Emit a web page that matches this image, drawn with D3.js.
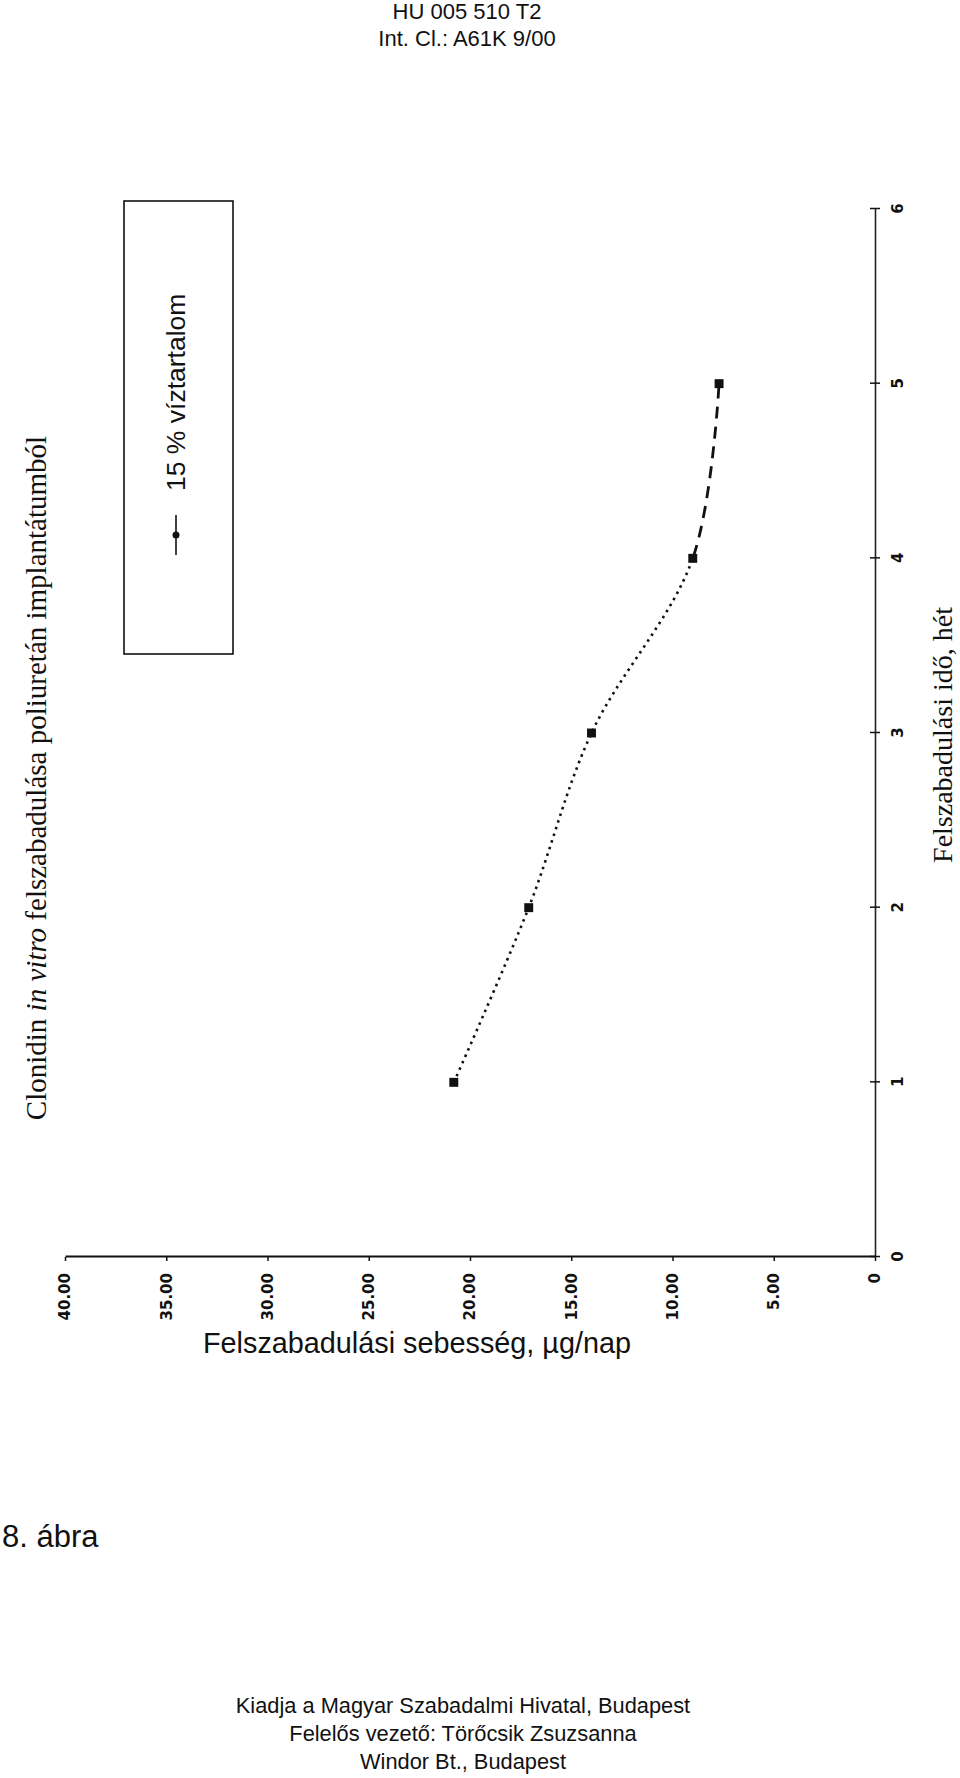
<!DOCTYPE html>
<html><head><meta charset="utf-8">
<script src="https://cdn.jsdelivr.net/npm/d3@7"></script>
<style>body{margin:0;background:#fff}svg{display:block}</style>
</head><body><svg id="c" width="960" height="1778"></svg>
<script>
// ---- data ----
const weeks = [1, 2, 3, 4, 5];
const rates = [20.8, 17.1, 14.0, 9.0, 7.7];
const weekTicks = [0, 1, 2, 3, 4, 5, 6];
const rateTicks = [0, 5, 10, 15, 20, 25, 30, 35, 40];
const rateTickLabels = ["0", "5.00", "10.00", "15.00", "20.00", "25.00", "30.00", "35.00", "40.00"];
const seriesName = "15 % víztartalom";
const xTitle = "Felszabadulási idő, hét";
const yTitle = "Felszabadulási sebesség, \u00b5g/nap";
const headerLines = ["HU 005 510 T2", "Int. Cl.: A61K 9/00"];
const figLabel = "8. ábra";
const footerLines = ["Kiadja a Magyar Szabadalmi Hivatal, Budapest", "Felelős vezető: Törőcsik Zsuzsanna", "Windor Bt., Budapest"];

const svg = d3.select("#c");
const sans = "'Liberation Sans', Arial, sans-serif";
const serif = "'Liberation Serif', 'Times New Roman', serif";

// header
svg.selectAll("text.hdr").data(headerLines).join("text")
  .attr("class", "hdr").attr("x", 467).attr("y", (d, i) => 19 + i * 27)
  .attr("text-anchor", "middle").attr("font-family", sans).attr("font-size", 22)
  .attr("fill", "#111").text(d => d);

// rotated chart group (landscape chart turned 90° counter-clockwise)
const W = 1048, H = 810;
const g = svg.append("g").attr("transform", "translate(65,1257) rotate(-90)");
const x = d3.scaleLinear().domain([0, 6]).range([0, W]);
const y = d3.scaleLinear().domain([0, 40]).range([H, 0]);

const xAxis = d3.axisBottom(x).tickValues(weekTicks).tickFormat(d3.format("d"))
  .tickSizeInner(5).tickSizeOuter(0).tickPadding(12);
const yAxis = d3.axisLeft(y).tickValues(rateTicks)
  .tickFormat(d => rateTickLabels[rateTicks.indexOf(d)])
  .tickSizeInner(4).tickSizeOuter(0).tickPadding(12);

const gx = g.append("g").attr("transform", `translate(0,${H})`).call(xAxis);
const gy = g.append("g").call(yAxis);
[gx, gy].forEach(a => {
  a.selectAll("text").attr("font-family", "'DejaVu Sans', sans-serif")
    .attr("font-weight", "bold").attr("font-size", 15).attr("fill", "#111");
  a.selectAll("line").attr("stroke", "#111").attr("stroke-width", 1.5);
});
gx.selectAll(".tick line").attr("y1", -5);
gx.select(".domain").attr("stroke", "#222").attr("stroke-width", 1.6);
gy.select(".domain").attr("stroke", "#111").attr("stroke-width", 2.2);

// series: one smooth curve, dotted up to week 4, dashed after
const pts = weeks.map((w, i) => [x(w), y(rates[i])]);
const split = x(weeks[3]);
const defs = svg.append("defs");
defs.append("clipPath").attr("id", "cl1").append("rect")
  .attr("x", -10).attr("y", -10).attr("width", split + 10).attr("height", H + 20);
defs.append("clipPath").attr("id", "cl2").append("rect")
  .attr("x", split).attr("y", -10).attr("width", W).attr("height", H + 20);
const lineGen = d3.line().curve(d3.curveCatmullRom.alpha(0.5));
const d = lineGen(pts);
g.append("path").attr("d", d).attr("clip-path", "url(#cl1)")
  .attr("fill", "none").attr("stroke", "#111").attr("stroke-width", 2.6)
  .attr("stroke-dasharray", "2.5,4.5");
g.append("path").attr("d", d).attr("clip-path", "url(#cl2)")
  .attr("fill", "none").attr("stroke", "#111").attr("stroke-width", 2.8)
  .attr("stroke-dasharray", "12,8");
g.selectAll("path.mk").data(pts).join("path").attr("class", "mk")
  .attr("transform", p => `translate(${p[0]},${p[1]})`)
  .attr("d", d3.symbol().type(d3.symbolSquare).size(80)).attr("fill", "#111");

// legend
const lg = g.append("g");
lg.append("rect").attr("x", 603).attr("y", 59).attr("width", 453).attr("height", 109)
  .attr("fill", "none").attr("stroke", "#111").attr("stroke-width", 1.6);
lg.append("line").attr("x1", 702).attr("x2", 742).attr("y1", 111).attr("y2", 111)
  .attr("stroke", "#111").attr("stroke-width", 1.6);
lg.append("circle").attr("cx", 722).attr("cy", 111).attr("r", 3.5).attr("fill", "#111");
lg.append("text").attr("x", 766).attr("y", 120).attr("font-family", sans)
  .attr("font-size", 26.5).attr("fill", "#111").text(seriesName);

// title
const t = g.append("text").attr("x", 479).attr("y", -19).attr("text-anchor", "middle")
  .attr("font-family", serif).attr("font-size", 29).attr("fill", "#111");
t.append("tspan").text("Clonidin ");
t.append("tspan").attr("font-style", "italic").text("in vitro");
t.append("tspan").text(" felszabadulása poliuretán implantátumból");

// week axis title
g.append("text").attr("x", 522).attr("y", 887).attr("text-anchor", "middle")
  .attr("font-family", serif).attr("font-size", 28).attr("fill", "#111").text(xTitle);

// rate axis title (horizontal)
svg.append("text").attr("x", 417).attr("y", 1353).attr("text-anchor", "middle")
  .attr("font-family", sans).attr("font-size", 28.8).attr("fill", "#111").text(yTitle);

// figure label
svg.append("text").attr("x", 2).attr("y", 1547).attr("font-family", sans)
  .attr("font-size", 31).attr("fill", "#111").text(figLabel);

// footer
svg.selectAll("text.ftr").data(footerLines).join("text")
  .attr("class", "ftr").attr("x", 463).attr("y", (d, i) => 1713 + i * 28)
  .attr("text-anchor", "middle").attr("font-family", sans).attr("font-size", 21.8)
  .attr("fill", "#111").text(d => d);
</script></body></html>
